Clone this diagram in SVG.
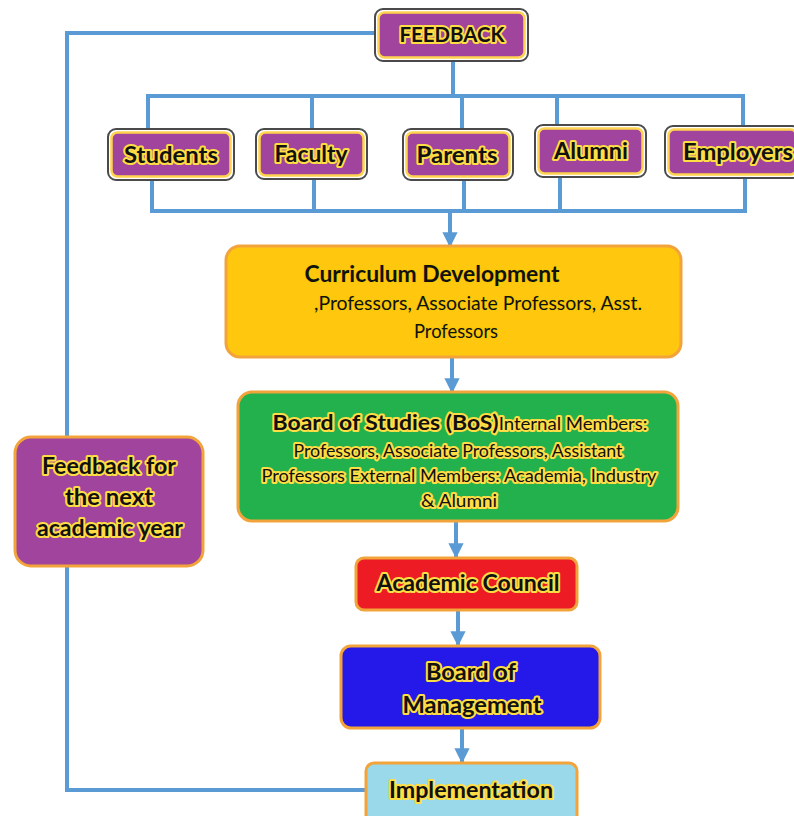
<svg xmlns="http://www.w3.org/2000/svg" width="794" height="816" viewBox="0 0 794 816">
<defs>
<style>
.ln{fill:none;stroke:#5B9BD5;stroke-width:4;stroke-linejoin:miter}
.pur{fill:#A0449E;stroke:#FFD34E;stroke-width:2.5}
.purO{fill:none;stroke:#4A4A4A;stroke-width:2}
.org{stroke:#F2A33A;stroke-width:3}
.t{font-family:Lato,"Open Sans","Liberation Sans",sans-serif;fill:#111;text-anchor:middle;paint-order:stroke;stroke:#FFDD44;stroke-width:4;stroke-linejoin:round}
.b{font-weight:bold}
.plain{stroke:#F5C800;stroke-width:1.5}
</style>
<marker id="ah" viewBox="0 0 10 10" refX="9" refY="5" markerWidth="3.8" markerHeight="3.8" orient="auto" markerUnits="strokeWidth">
<path d="M0,0 L10,5 L0,10 z" fill="#5B9BD5"/>
</marker>
</defs>
<rect width="794" height="816" fill="#fff"/>
<g id="connectors">
<polyline class="ln" points="376,33 67,33 67,437"/>
<polyline class="ln" points="67,566 67,790 367,790"/>
<line class="ln" x1="453" y1="60" x2="453" y2="96"/>
<polyline class="ln" points="148,130 148,96 743,96 743,127"/>
<line class="ln" x1="312" y1="96" x2="312" y2="130"/>
<line class="ln" x1="462" y1="96" x2="462" y2="130"/>
<line class="ln" x1="557" y1="96" x2="557" y2="126"/>
<polyline class="ln" points="152,179 152,211 745,211 745,177"/>
<line class="ln" x1="314" y1="178" x2="314" y2="211"/>
<line class="ln" x1="464" y1="179" x2="464" y2="211"/>
<line class="ln" x1="560" y1="176" x2="560" y2="211"/>
<line class="ln" x1="450" y1="211" x2="450" y2="246" marker-end="url(#ah)"/>
<line class="ln" x1="452" y1="357" x2="452" y2="392" marker-end="url(#ah)"/>
<line class="ln" x1="456" y1="521" x2="456" y2="557" marker-end="url(#ah)"/>
<line class="ln" x1="458" y1="610" x2="458" y2="645" marker-end="url(#ah)"/>
<line class="ln" x1="462" y1="728" x2="462" y2="762" marker-end="url(#ah)"/>
</g>
<g id="feedback">
<rect class="purO" x="375" y="9" width="153" height="52" rx="8"/>
<rect class="pur" x="378.5" y="12.5" width="146" height="45" rx="6"/>
<text class="t b" x="452" y="42" font-size="21" textLength="105" lengthAdjust="spacingAndGlyphs">FEEDBACK</text>
</g>
<g id="students">
<rect class="purO" x="108" y="129" width="126" height="51" rx="8"/>
<rect class="pur" x="111.5" y="132.5" width="119" height="44" rx="6"/>
<text class="t b" x="171" y="163" font-size="23" textLength="94" lengthAdjust="spacingAndGlyphs">Students</text>
</g>
<g id="faculty">
<rect class="purO" x="256" y="129" width="111" height="50" rx="8"/>
<rect class="pur" x="259.5" y="132.5" width="104" height="43" rx="6"/>
<text class="t b" x="311" y="162" font-size="23" textLength="73" lengthAdjust="spacingAndGlyphs">Faculty</text>
</g>
<g id="parents">
<rect class="purO" x="403" y="129" width="110" height="51" rx="8"/>
<rect class="pur" x="406.5" y="132.5" width="103" height="44" rx="6"/>
<text class="t b" x="457" y="163" font-size="23" textLength="81" lengthAdjust="spacingAndGlyphs">Parents</text>
</g>
<g id="alumni">
<rect class="purO" x="535" y="125" width="111" height="52" rx="8"/>
<rect class="pur" x="538.5" y="128.5" width="104" height="45" rx="6"/>
<text class="t b" x="591" y="159" font-size="23" textLength="74" lengthAdjust="spacingAndGlyphs">Alumni</text>
</g>
<g id="employers">
<rect class="purO" x="665" y="126" width="135" height="52" rx="8"/>
<rect class="pur" x="668.5" y="129.5" width="128" height="45" rx="6"/>
<text class="t b" x="738" y="160" font-size="23" textLength="110" lengthAdjust="spacingAndGlyphs">Employers</text>
</g>
<g id="curriculum">
<rect class="org" x="226" y="246" width="455" height="111" rx="14" fill="#FFC70E"/>
<text class="t b plain" x="432" y="282" font-size="22" textLength="255" lengthAdjust="spacingAndGlyphs">Curriculum Development</text>
<text class="t plain" x="478" y="310" font-size="19" textLength="328" lengthAdjust="spacingAndGlyphs">,Professors, Associate Professors, Asst.</text>
<text class="t plain" x="456" y="338" font-size="19" textLength="84" lengthAdjust="spacingAndGlyphs">Professors</text>
</g>
<g id="bos">
<rect class="org" x="238" y="392" width="440" height="129" rx="14" fill="#22B14C"/>
<text class="t" x="460" y="430" textLength="375" lengthAdjust="spacingAndGlyphs"><tspan class="b" font-size="21">Board of Studies (BoS)</tspan><tspan font-size="17">Internal Members:</tspan></text>
<text class="t" x="458" y="457" font-size="17" textLength="329" lengthAdjust="spacingAndGlyphs">Professors, Associate Professors, Assistant</text>
<text class="t" x="459" y="482" font-size="17" textLength="395" lengthAdjust="spacingAndGlyphs">Professors  External Members: Academia, Industry</text>
<text class="t" x="459" y="507" font-size="17" textLength="76" lengthAdjust="spacingAndGlyphs">&amp; Alumni</text>
</g>
<g id="academic-council">
<rect class="org" x="356" y="558" width="221" height="52" rx="8" fill="#ED1C24"/>
<text class="t b" x="468" y="591" font-size="23" textLength="183" lengthAdjust="spacingAndGlyphs">Academic Council</text>
</g>
<g id="board-of-management">
<rect class="org" x="341" y="646" width="259" height="82" rx="10" fill="#2419E8"/>
<text class="t b" x="471" y="680" font-size="23" textLength="90" lengthAdjust="spacingAndGlyphs">Board of</text>
<text class="t b" x="472" y="713" font-size="23" textLength="139" lengthAdjust="spacingAndGlyphs">Management</text>
</g>
<g id="implementation">
<rect class="org" x="366" y="763" width="211" height="60" rx="8" fill="#99D9EA"/>
<text class="t b" x="471" y="798" font-size="23" textLength="164" lengthAdjust="spacingAndGlyphs">Implementation</text>
</g>
<g id="feedback-next">
<rect class="org" x="15" y="437" width="188" height="129" rx="16" fill="#A0449E"/>
<text class="t b" x="109" y="474" font-size="23" textLength="134" lengthAdjust="spacingAndGlyphs">Feedback for</text>
<text class="t b" x="109" y="505" font-size="23" textLength="88" lengthAdjust="spacingAndGlyphs">the next</text>
<text class="t b" x="110" y="536" font-size="23" textLength="146" lengthAdjust="spacingAndGlyphs">academic year</text>
</g>
</svg>
